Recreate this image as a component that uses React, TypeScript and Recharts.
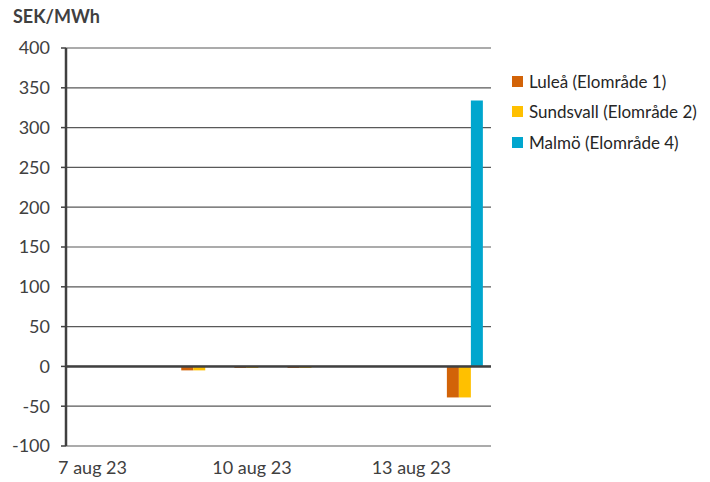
import React from 'react';
import {
  BarChart,
  Bar,
  XAxis,
  YAxis,
  CartesianGrid,
  ReferenceLine,
} from 'recharts';

const dates = [
  '7 aug 23',
  '8 aug 23',
  '9 aug 23',
  '10 aug 23',
  '11 aug 23',
  '12 aug 23',
  '13 aug 23',
  '14 aug 23',
];
const lulea = [0, 0, -5, -2, -2, 0, 0, -39];
const sundsvall = [0, 0, -5, -2, -2, 0, 0, -39];
const malmo = [0, 0, 0, 0, 0, 0, 0, 334];
const yTicks = [-100, -50, 0, 50, 100, 150, 200, 250, 300, 350, 400];

const series = [
  { key: 'lulea', name: 'Luleå (Elområde 1)', color: '#D26308' },
  { key: 'sundsvall', name: 'Sundsvall (Elområde 2)', color: '#FFC000' },
  { key: 'malmo', name: 'Malmö (Elområde 4)', color: '#00A6CE' },
];

const FONT = 'Lato, "Open Sans", sans-serif';

const chartData = dates.map((d, i) => ({
  date: d,
  lulea: lulea[i],
  sundsvall: sundsvall[i],
  malmo: malmo[i],
}));

// legend drawn outside the chart so it doesn't eat into the plot area
const LegendBox = () => (
  <div
    style={{
      position: 'absolute',
      left: 512,
      top: 66,
      fontFamily: FONT,
      fontSize: 17,
      color: '#262626',
    }}
  >
    {series.map((s) => (
      <div
        key={s.key}
        style={{ display: 'flex', alignItems: 'center', height: 30.5 }}
      >
        <span
          style={{
            width: 11,
            height: 11,
            background: s.color,
            display: 'inline-block',
            marginRight: 6,
          }}
        />
        {s.name}
      </div>
    ))}
  </div>
);

const App: React.FC = () => {
  return (
    <div
      style={{
        position: 'absolute',
        left: 0,
        top: 0,
        width: 710,
        height: 482,
        background: '#fff',
      }}
    >
      <div
        style={{
          position: 'absolute',
          left: 13,
          top: 5,
          fontFamily: FONT,
          fontWeight: 700,
          fontSize: 18,
          color: '#404040',
        }}
      >
        SEK/MWh
      </div>
      <BarChart
        width={710}
        height={482}
        data={chartData}
        margin={{ top: 48, right: 219, bottom: 0, left: 0 }}
        barGap={0}
        barSize={12}
      >
        <CartesianGrid
          vertical={false}
          stroke="#595959"
          strokeWidth={1.2}
        />
        <XAxis
          dataKey="date"
          interval={2}
          height={36}
          axisLine={false}
          tickLine={false}
          tick={{ fontFamily: FONT, fontSize: 18, fill: '#404040' }}
          tickMargin={9}
        />
        <YAxis
          width={66}
          domain={[-100, 400]}
          ticks={yTicks}
          interval={0}
          axisLine={{ stroke: '#404040', strokeWidth: 2.5 }}
          tickLine={{ stroke: '#404040', strokeWidth: 1.5 }}
          tickSize={5}
          tickMargin={11}
          tick={{ fontFamily: FONT, fontSize: 18, fill: '#404040' }}
        />
        {series.map((s) => (
          <Bar
            key={s.key}
            dataKey={s.key}
            name={s.name}
            fill={s.color}
            isAnimationActive={false}
          />
        ))}
        <ReferenceLine y={0} stroke="#404040" strokeWidth={2.5} />
      </BarChart>
      <LegendBox />
    </div>
  );
};

export default App;
